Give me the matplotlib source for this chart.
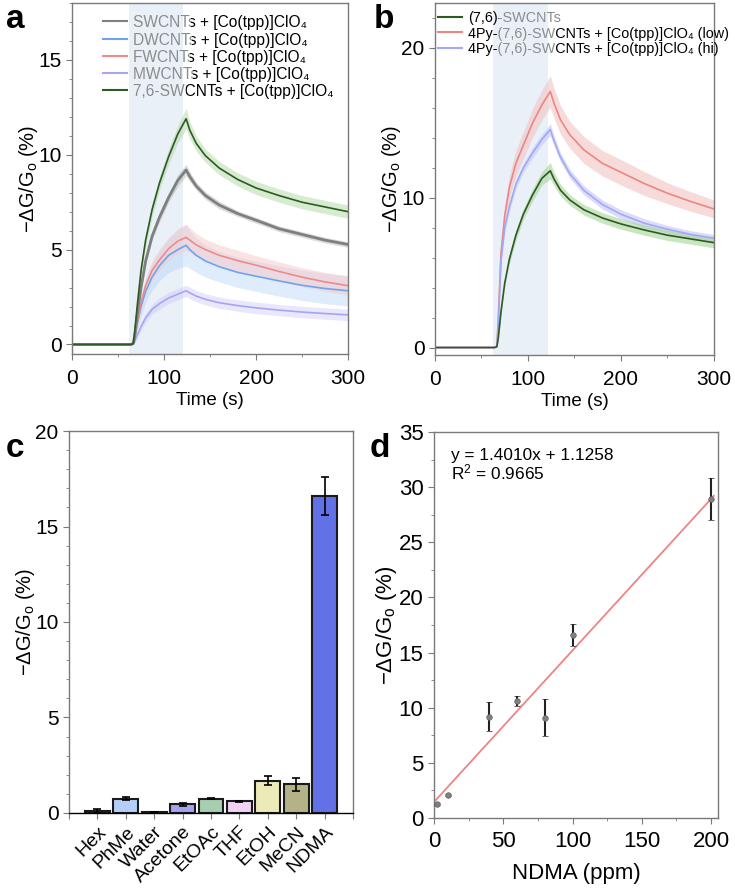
import numpy as np
import matplotlib
matplotlib.use("Agg")
import matplotlib.pyplot as plt
from matplotlib.ticker import MultipleLocator
from matplotlib.transforms import Bbox

plt.rcParams['font.family'] = ['Liberation Sans', 'DejaVu Sans']
plt.rcParams['mathtext.fontset'] = 'custom'
plt.rcParams['mathtext.rm'] = 'Liberation Sans'
plt.rcParams['mathtext.it'] = 'Liberation Sans:italic'

# ---- panel a / b time traces ----
t = [0, 64, 66.5, 68, 71, 75, 80, 87, 95, 105, 115, 124, 128, 135, 145, 160, 180, 200, 225, 250, 275, 300]

sw_y = [0, 0, 0.05, 0.4, 1.6, 3.0, 4.4, 5.7, 6.7, 7.75, 8.65, 9.2, 8.85, 8.35, 7.85, 7.35, 6.9, 6.55, 6.1, 5.8, 5.5, 5.27]
sw_e = [0, 0, 0.03, 0.1, 0.15, 0.2, 0.2, 0.2, 0.25, 0.25, 0.3, 0.3, 0.25, 0.2, 0.2, 0.2, 0.15, 0.15, 0.15, 0.15, 0.15, 0.15]
dw_y = [0, 0, 0.03, 0.3, 1.1, 2.0, 2.8, 3.55, 4.15, 4.7, 5.0, 5.23, 5.0, 4.7, 4.4, 4.1, 3.8, 3.6, 3.35, 3.12, 2.95, 2.83]
dw_e = [0, 0, 0.03, 0.2, 0.35, 0.5, 0.6, 0.7, 0.8, 0.9, 1.0, 1.1, 1.0, 0.9, 0.85, 0.8, 0.8, 0.8, 0.8, 0.8, 0.8, 0.8]
fw_y = [0, 0, 0.03, 0.3, 1.2, 2.2, 3.1, 3.9, 4.45, 5.05, 5.45, 5.65, 5.5, 5.25, 5.0, 4.7, 4.42, 4.18, 3.85, 3.55, 3.3, 3.1]
fw_e = [0, 0, 0.03, 0.15, 0.25, 0.35, 0.4, 0.5, 0.55, 0.6, 0.65, 0.7, 0.65, 0.6, 0.55, 0.55, 0.55, 0.5, 0.5, 0.5, 0.5, 0.5]
mw_y = [0, 0, 0.02, 0.15, 0.5, 0.95, 1.4, 1.85, 2.15, 2.45, 2.65, 2.83, 2.72, 2.55, 2.38, 2.2, 2.05, 1.93, 1.81, 1.71, 1.63, 1.56]
mw_e = [0, 0, 0.02, 0.1, 0.15, 0.2, 0.25, 0.25, 0.3, 0.3, 0.3, 0.3, 0.3, 0.3, 0.3, 0.3, 0.3, 0.3, 0.3, 0.3, 0.3, 0.3]
g76a_y = [0, 0, 0.05, 0.6, 2.1, 3.9, 5.5, 7.1, 8.5, 9.9, 11.1, 11.9, 11.3, 10.6, 9.95, 9.3, 8.7, 8.25, 7.85, 7.5, 7.25, 7.0]
g76_e = [0, 0, 0.03, 0.15, 0.2, 0.25, 0.3, 0.35, 0.35, 0.4, 0.45, 0.55, 0.45, 0.4, 0.35, 0.35, 0.35, 0.35, 0.35, 0.35, 0.35, 0.35]

g76b_y = [0, 0, 0.05, 0.6, 2.4, 4.3, 5.9, 7.5, 8.9, 10.2, 11.3, 11.8, 11.25, 10.5, 9.85, 9.2, 8.65, 8.25, 7.85, 7.5, 7.25, 7.0]
low_y = [0, 0, 0.1, 1.8, 6.3, 8.8, 10.7, 12.3, 13.5, 15.0, 16.2, 17.1, 16.3, 15.2, 14.2, 13.2, 12.3, 11.7, 10.95, 10.3, 9.75, 9.25]
low_e = [0, 0, 0.05, 0.3, 0.6, 0.7, 0.8, 0.85, 0.9, 0.95, 1.0, 1.05, 1.0, 0.95, 0.9, 0.9, 0.85, 0.85, 0.8, 0.7, 0.65, 0.6]
hi_y = [0, 0, 0.1, 1.4, 5.8, 8.0, 9.4, 10.9, 12.0, 13.0, 13.9, 14.55, 13.8, 12.7, 11.6, 10.5, 9.55, 8.9, 8.3, 7.9, 7.55, 7.3]
hi_e = [0, 0, 0.05, 0.15, 0.25, 0.3, 0.3, 0.3, 0.3, 0.35, 0.35, 0.4, 0.35, 0.3, 0.3, 0.3, 0.3, 0.3, 0.3, 0.25, 0.25, 0.25]

exposure = (62, 121)

# ---- panel c ----
solvents = ['Hex', 'PhMe', 'Water', 'Acetone', 'EtOAc', 'THF', 'EtOH', 'MeCN', 'NDMA']
resp = [0.1, 0.75, 0.05, 0.45, 0.75, 0.62, 1.7, 1.5, 16.6]
resp_err = [0.1, 0.07, 0.02, 0.07, 0.02, 0.02, 0.22, 0.35, 1.0]
bar_colors = ['#8c8c8c', '#b3cff7', '#707070', '#a3a3f2', '#a6cfb1', '#f2d2f4',
              '#ecebb8', '#b4b387', '#6271e6']

# ---- panel d ----
ndma = [2, 10, 40, 60, 80, 100, 200]
ndma_resp = [1.3, 2.1, 9.2, 10.6, 9.1, 16.6, 28.9]
ndma_err = [0.1, 0.1, 1.35, 0.45, 1.65, 1.0, 1.9]

GRAY_TXT = '#8c8c8c'
SPINE = '#7a7a7a'
ylab = '\u2212\u0394G/G$_\\mathregular{o}$ (%)'
clo4 = 'ClO\u2084'


def style(ax, fs=15, xpad=6.5):
    for s in ax.spines.values():
        s.set_color(SPINE)
        s.set_linewidth(1.0)
    ax.tick_params(which='both', direction='out', color=SPINE, labelsize=fs)
    ax.tick_params(which='major', length=4)
    ax.tick_params(which='minor', length=2.5)
    ax.tick_params(axis='x', which='major', pad=xpad)


fig = plt.figure(figsize=(7.35, 8.88), dpi=100)
renderer = fig.canvas.get_renderer()


def text_w(s, fs):
    tmp = fig.text(0, 0, s, fontsize=fs)
    w = tmp.get_window_extent(renderer).width
    tmp.remove()
    return w


def legend_rows(ax, rows, xl0, xl1, xt, ys, fs):
    # each label is drawn whole, then coloured piecewise by clipping
    for (color, pieces), y in zip(rows, ys):
        ax.plot([xl0, xl1], [y, y], transform=ax.transAxes, color=color, lw=1.5,
                clip_on=False)
        full = ''.join(p for p, c in pieces)
        x0 = ax.transAxes.transform((xt, y))[0]
        bounds = [-1e4]
        for k in range(1, len(pieces)):
            bounds.append(x0 + text_w(''.join(p for p, c in pieces[:k]), fs) + 1)
        bounds.append(1e5)
        for k, (p, c) in enumerate(pieces):
            txt = fig.text(xt, y, full, transform=ax.transAxes, color=c, fontsize=fs,
                           va='center_baseline', ha='left')
            txt.set_clip_box(Bbox.from_extents(bounds[k], -1e4, bounds[k + 1], 1e5))
            txt.set_clip_on(True)


def trace(ax, y, e, line_c, band_c, lw=1.2, alpha=0.45):
    y = np.array(y)
    e = np.array(e)
    ax.fill_between(t, y - e, y + e, color=band_c, alpha=alpha, lw=0)
    ax.plot(t, y, color=line_c, lw=lw)


# ---------------- a ----------------
ax = fig.add_axes([0.098, 0.6014, 0.3755, 0.3952])
ax.axvspan(*exposure, color='#e9f0f8', lw=0, zorder=0)
trace(ax, mw_y, mw_e, '#a8a4f4', '#cdcaf9')
trace(ax, dw_y, dw_e, '#6fa3ee', '#b8d5fa')
trace(ax, fw_y, fw_e, '#f08a8a', '#f8c8c8', alpha=0.5)
trace(ax, sw_y, sw_e, '#7f7f7f', '#b0b0b0', lw=2.0)
trace(ax, g76a_y, g76_e, '#2c5a20', '#a8d49a')
ax.set_xlim(0, 300)
ax.set_ylim(-0.5, 18)
ax.xaxis.set_major_locator(MultipleLocator(100))
ax.xaxis.set_minor_locator(MultipleLocator(50))
ax.yaxis.set_major_locator(MultipleLocator(5))
ax.yaxis.set_minor_locator(MultipleLocator(1))
style(ax)
ax.set_xlabel('Time (s)', fontsize=13.5, labelpad=3)
ax.set_ylabel(ylab, fontsize=14.5, labelpad=-1)
legend_rows(ax, [
    ('#7f7f7f', [('SWCNT', GRAY_TXT), ('s + [Co(tpp)]' + clo4, 'black')]),
    ('#6fa3ee', [('DWCNT', GRAY_TXT), ('s + [Co(tpp)]' + clo4, 'black')]),
    ('#f08a8a', [('FWCNT', GRAY_TXT), ('s + [Co(tpp)]' + clo4, 'black')]),
    ('#a8a4f4', [('MWCNT', GRAY_TXT), ('s + [Co(tpp)]' + clo4, 'black')]),
    ('#2c5a20', [('7,6-SW', GRAY_TXT), ('CNTs + [Co(tpp)]' + clo4, 'black')]),
], 0.112, 0.199, 0.221, [0.9487, 0.898, 0.848, 0.800, 0.752], 11.2)
fig.text(0.008, 0.995, 'a', fontsize=24, fontweight='bold', va='top')

# ---------------- b ----------------
ax = fig.add_axes([0.5918, 0.6002, 0.3796, 0.3964])
ax.axvspan(*exposure, color='#e9f0f8', lw=0, zorder=0)
trace(ax, low_y, low_e, '#ee8585', '#f2c4c4', alpha=0.6)
trace(ax, hi_y, hi_e, '#a3a7f8', '#ccceFa', alpha=0.7)
trace(ax, g76b_y, g76_e, '#2c5a20', '#a8d49a', alpha=0.6)
ax.set_xlim(0, 300)
ax.set_ylim(-0.5, 23)
ax.xaxis.set_major_locator(MultipleLocator(100))
ax.xaxis.set_minor_locator(MultipleLocator(50))
ax.yaxis.set_major_locator(MultipleLocator(10))
ax.yaxis.set_minor_locator(MultipleLocator(2))
style(ax)
ax.set_xlabel('Time (s)', fontsize=13.5, labelpad=3)
ax.set_ylabel(ylab, fontsize=14.5, labelpad=-1)
legend_rows(ax, [
    ('#2c5a20', [('(7,6)', 'black'), ('-SWCNTs', GRAY_TXT)]),
    ('#ee8585', [('4Py-', 'black'), ('(7,6)-SW', GRAY_TXT),
                 ('CNTs + [Co(tpp)]' + clo4 + ' (low)', 'black')]),
    ('#a3a7f8', [('4Py-', 'black'), ('(7,6)-SW', GRAY_TXT),
                 ('CNTs + [Co(tpp)]' + clo4 + ' (hi)', 'black')]),
], 0.011, 0.097, 0.118, [0.961, 0.917, 0.873], 10.4)
fig.text(0.508, 0.995, 'b', fontsize=24, fontweight='bold', va='top')

# ---------------- c ----------------
ax = fig.add_axes([0.0939, 0.0845, 0.3864, 0.4301])
xpos = np.arange(len(solvents))
ax.bar(xpos, resp, width=0.87, color=bar_colors, edgecolor='#1a1a1a', lw=1.5, zorder=2)
ax.errorbar(xpos, resp, yerr=resp_err, fmt='none', ecolor='black', elinewidth=1.2,
            capsize=3, capthick=1.2, zorder=3)
ax.set_xlim(-1, 9)
ax.set_ylim(0, 20)
ax.yaxis.set_major_locator(MultipleLocator(5))
ax.yaxis.set_minor_locator(MultipleLocator(1))
style(ax, xpad=3.5)
ax.spines['bottom'].set_color('black')
ax.set_xticks(list(xpos) + [-1, 9])
ax.set_xticklabels(solvents + ['', ''], rotation=45, ha='right',
                   rotation_mode='anchor', fontsize=14)
ax.set_ylabel(ylab, fontsize=14.5, labelpad=-1)
fig.text(0.008, 0.512, 'c', fontsize=24, fontweight='bold', va='top')

# ---------------- d ----------------
ax = fig.add_axes([0.5905, 0.0788, 0.3864, 0.4347])
slope, icpt = np.polyfit(ndma, ndma_resp, 1)
xl = np.array([1, 202])
ax.plot(xl, slope * xl + icpt, color='#f08383', lw=1.3, zorder=2)
ax.errorbar(ndma, ndma_resp, yerr=ndma_err, fmt='o', ms=4, mfc='#808080', mec='#606060',
            mew=0.5, ecolor='#222222', elinewidth=1.5, capsize=2.5, capthick=1.2, zorder=3)
ax.set_xlim(0, 205)
ax.set_ylim(0, 35)
ax.xaxis.set_major_locator(MultipleLocator(50))
ax.xaxis.set_minor_locator(MultipleLocator(25))
ax.yaxis.set_major_locator(MultipleLocator(5))
ax.yaxis.set_minor_locator(MultipleLocator(2.5))
style(ax, fs=16, xpad=5.5)
ax.set_xlabel('NDMA (ppm)', fontsize=16, labelpad=8)
ax.set_ylabel(ylab, fontsize=16, labelpad=0)
ax.text(0.06, 0.959, 'y = 1.4010x + 1.1258\nR$^\\mathregular{2}$ = 0.9665', transform=ax.transAxes,
        fontsize=12.4, va='top', linespacing=1.0)
fig.text(0.503, 0.512, 'd', fontsize=24, fontweight='bold', va='top')

fig.savefig('out.png', dpi=100)
